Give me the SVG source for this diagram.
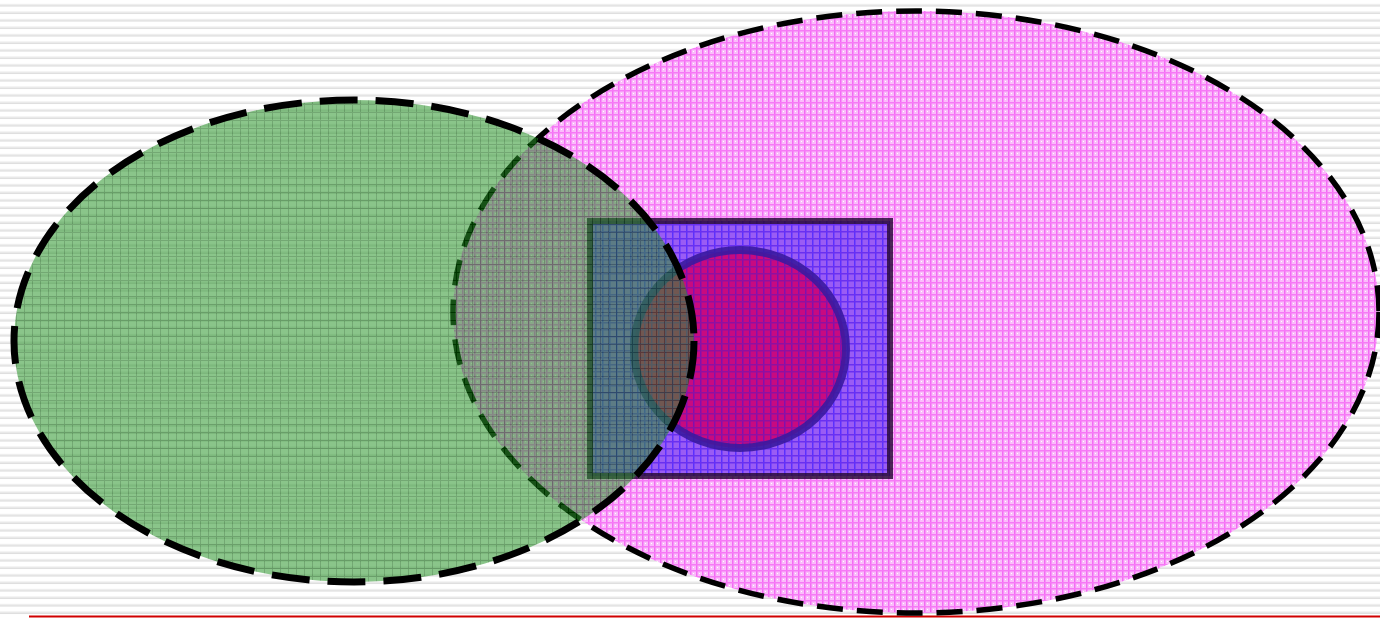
<svg xmlns="http://www.w3.org/2000/svg" width="1380" height="618" viewBox="0 0 1380 618">
<defs>
<pattern id="bg" width="8" height="7.5" patternUnits="userSpaceOnUse">
<rect width="8" height="7.5" fill="#ffffff"/>
<rect y="5" width="8" height="1.5" fill="#dcdcdc"/>
<rect y="4" width="8" height="1" fill="#ececec"/>
</pattern>
<pattern id="pk" width="6" height="6" patternUnits="userSpaceOnUse">
<rect width="6" height="6" fill="#fabcfa"/>
<rect x="0" width="1.5" height="6" fill="#f46af4"/>
<rect y="0" width="6" height="1.5" fill="#f67af6"/>
<rect x="3" y="3" width="1" height="1" fill="#ffffff"/>
</pattern>
<pattern id="gr" width="8" height="8" patternUnits="userSpaceOnUse">
<rect width="8" height="8" fill="#2a962a"/>
<rect x="0" width="1" height="8" fill="#006000"/>
<rect y="0" width="8" height="1" fill="#006000"/>
</pattern>
<pattern id="pu" width="7" height="7" patternUnits="userSpaceOnUse">
<rect width="7" height="7" fill="#9a5cf4"/>
<rect x="0" width="1.5" height="7" fill="#5a30ff"/>
<rect y="0" width="7" height="1.5" fill="#6a30f0"/>
</pattern>
<pattern id="mg" width="7" height="7" patternUnits="userSpaceOnUse">
<rect width="7" height="7" fill="#c80a80"/>
<rect x="0" width="1.5" height="7" fill="#8010b0"/>
<rect y="0" width="7" height="1.5" fill="#9010a0"/>
</pattern>
</defs>
<style>
.dash { fill: none; stroke: #000; stroke-linecap: butt; }
</style>
<rect width="1380" height="618" fill="url(#bg)"/>
<line x1="29" y1="616.5" x2="1380" y2="616.5" stroke="#d00000" stroke-width="2"/>
<g id="pink-ellipse">
<ellipse cx="916" cy="312" rx="463" ry="301" fill="url(#pk)"/>
<ellipse cx="916" cy="312" rx="463" ry="301" class="dash" stroke-width="5.5" stroke-dasharray="26 14"/>
</g>
<g id="rectangle">
<rect x="590" y="221" width="300" height="255" fill="url(#pu)" stroke="#2a0a3a" stroke-opacity="0.85" stroke-width="6"/>
</g>
<g id="circle">
<ellipse cx="740" cy="349" rx="106" ry="99" fill="url(#mg)" stroke="#3a1aa0" stroke-opacity="0.9" stroke-width="8"/>
</g>
<g id="green-ellipse">
<ellipse cx="354" cy="341" rx="340" ry="241" fill="url(#gr)" fill-opacity="0.55"/>
<ellipse cx="354" cy="341" rx="340" ry="241" class="dash" stroke-width="7" stroke-dasharray="38 18"/>
</g>
</svg>
